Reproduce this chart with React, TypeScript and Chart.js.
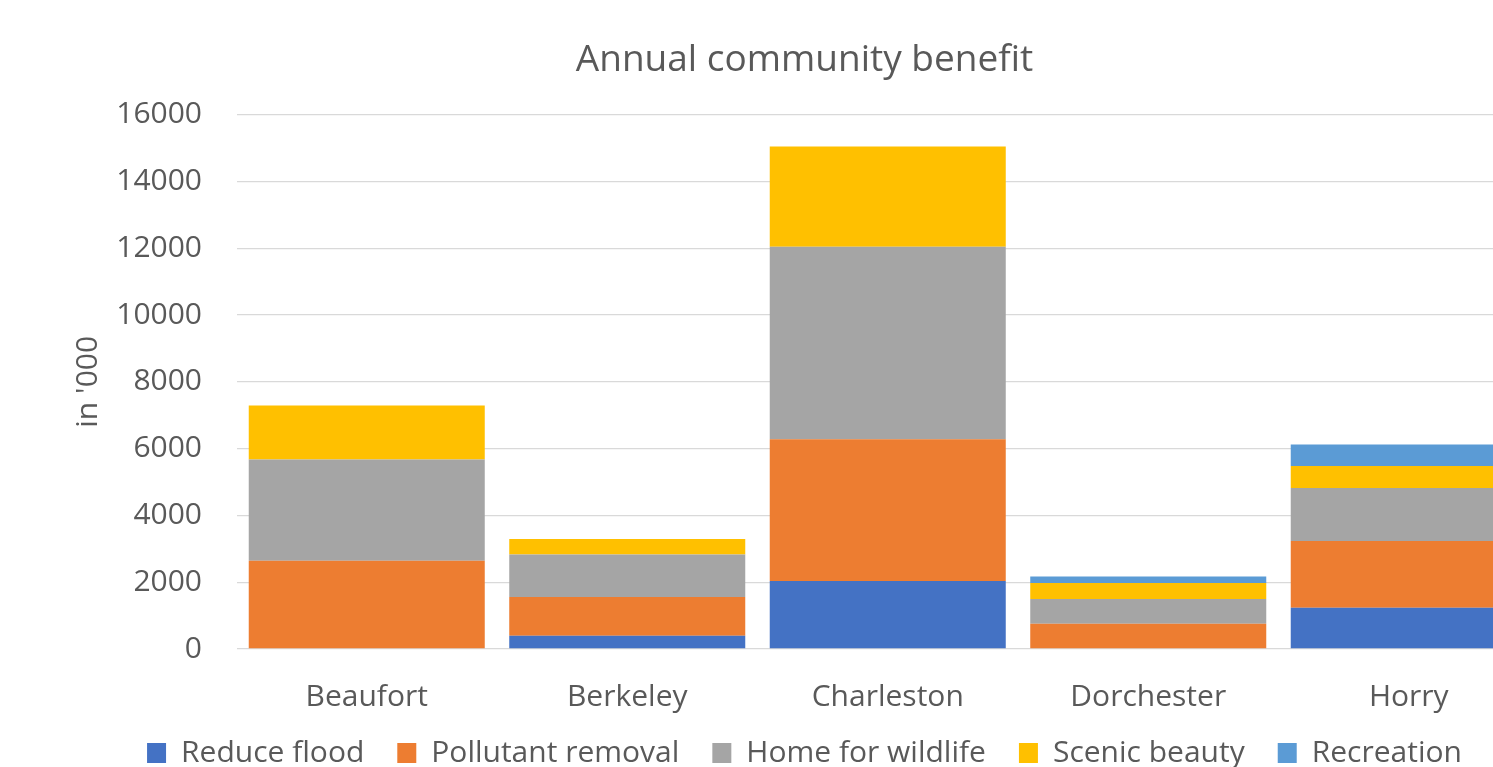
import React, { useEffect, useRef } from "react";
import { Chart, registerables } from "chart.js";

Chart.register(...registerables);

const categories = ["Beaufort", "Berkeley", "Charleston", "Dorchester", "Horry"];
const reduceFlood = [0, 398, 2033, 0, 1236];
const pollutantRemoval = [2641, 1157, 4247, 757, 1994];
const homeForWildlife = [3032, 1277, 5762, 738, 1594];
const scenicBeauty = [1614, 458, 3000, 479, 658];
const recreation = [0, 0, 0, 200, 639];
const seriesNames = ["Reduce flood", "Pollutant removal", "Home for wildlife", "Scenic beauty", "Recreation"];
const seriesColors = ["#4472C4", "#ED7D31", "#A5A5A5", "#FFC000", "#5B9BD5"];
const yMin = 0;
const yMax = 16000;
const yStep = 2000;

const FONT = "'Open Sans', sans-serif";
const TEXT = "#595959";

const unclipXLabels = {
  id: "unclipXLabels",
  afterLayout(chart: any) {
    const x = chart.scales.x;
    if (x) x.bottom = x.bottom + 40;
  },
};

export default function App() {
  const ref = useRef<HTMLCanvasElement | null>(null);
  useEffect(() => {
    if (!ref.current) return;
    const values = [reduceFlood, pollutantRemoval, homeForWildlife, scenicBeauty, recreation];
    const chart = new Chart(ref.current, {
      type: "bar",
      data: {
        labels: categories,
        datasets: values.map((v, i) => ({
          label: seriesNames[i],
          data: v,
          backgroundColor: seriesColors[i],
          borderWidth: 0,
          barPercentage: 0.906,
          categoryPercentage: 1,
        })),
      },
      plugins: [unclipXLabels],
      options: {
        responsive: false,
        animation: false,
        layout: { padding: { left: 70, right: 65, top: 0, bottom: 0 } },
        plugins: {
          title: {
            display: true,
            text: "Annual community benefit",
            color: TEXT,
            font: { family: FONT, size: 37, weight: "normal" },
            padding: { top: 38, bottom: 32.2 },
          },
          legend: {
            position: "bottom",
            labels: {
              color: TEXT,
              font: { family: FONT, size: 30 },
              boxWidth: 19,
              boxHeight: 20,
              padding: 33,
            },
          },
          tooltip: { enabled: false },
        },
        scales: {
          x: {
            stacked: true,
            grid: { display: false, drawTicks: false },
            border: { display: false },
            ticks: { color: TEXT, font: { family: FONT, size: 30 }, padding: 30 },
            afterFit: (s: any) => { s.height = 56; },
          },
          y: {
            stacked: true,
            min: yMin,
            max: yMax,
            ticks: {
              stepSize: yStep,
              color: TEXT,
              font: { family: FONT, size: 30 },
              padding: 34.5,
              callback: (v: any) => String(v),
            },
            grid: { color: "#D9D9D9", lineWidth: 1.3, drawTicks: false },
            border: { display: false },
            title: {
              display: true,
              text: "in '000",
              color: TEXT,
              font: { family: FONT, size: 30 },
              padding: 0,
            },
            afterFit: (s: any) => { s.width = 166.5; },
          },
        },
      } as any,
    });
    return () => chart.destroy();
  }, []);
  return (
    <div style={{ position: "absolute", left: 0, top: 0, width: 1493, height: 767, overflow: "hidden", background: "#fff" }}>
      <canvas ref={ref} width={1604} height={778} style={{ display: "block" }} />
    </div>
  );
}
